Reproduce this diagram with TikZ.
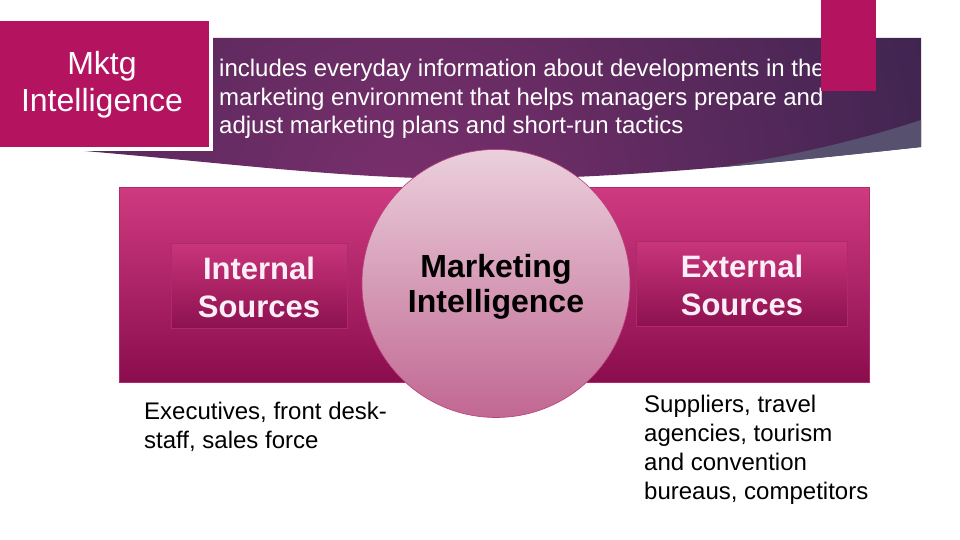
\documentclass[tikz,border=0pt]{standalone}
\usepackage{fontspec}
\setmainfont{Liberation Sans}
\definecolor{mag}{HTML}{B3135F}
\definecolor{bannermid}{HTML}{7A2F6C}
\definecolor{bannerdark}{HTML}{2A2146}
\definecolor{bandcol}{HTML}{57506F}
\definecolor{recttop}{HTML}{CF3A80}
\definecolor{rectbot}{HTML}{8A0D4E}
\definecolor{boxtop}{HTML}{C9357A}
\definecolor{boxbot}{HTML}{8D1150}
\definecolor{boxline}{HTML}{B0296B}
\definecolor{circtop}{HTML}{EBD0DC}
\definecolor{circbot}{HTML}{C16792}
\definecolor{circline}{HTML}{B8407A}
\definecolor{srcwhite}{HTML}{FCEEF7}
\begin{document}
\begin{tikzpicture}[x=1pt,y=-1pt,
  hdr/.style={text=white, font=\fontsize{24}{28.5}\selectfont, align=left, inner sep=0pt},
  body/.style={text=black, font=\fontsize{24}{29}\selectfont, align=left, inner sep=0pt},
  srcbox/.style={draw=boxline, line width=0.8pt, top color=boxtop, bottom color=boxbot, inner sep=0pt},
  srctext/.style={text=srcwhite, font=\bfseries\fontsize{31}{38}\selectfont, align=center, inner sep=0pt},
  mktgtext/.style={text=white, font=\fontsize{32}{37}\selectfont, align=center, inner sep=0pt}]
\useasboundingbox (0,0) rectangle (960,540);
\fill[white] (0,0) rectangle (960,540);
% banner
\begin{scope}
\clip (73,38) -- (921,38) -- (921,147) .. controls (800,160) and (640,178) .. (495,179)
  .. controls (350,180) and (250,165) .. (73,150) -- cycle;
\shade[inner color=bannermid, outer color=bannerdark] (400,200) circle (760);
\fill[bandcol] (921,120) .. controls (860,140) and (790,157) .. (690,172) -- (690,260) -- (960,260) -- (960,120) -- cycle;
\end{scope}
% Mktg box
\node[fill=mag, draw=white, line width=4pt, minimum width=213pt, minimum height=130pt, inner sep=0pt] (mkbox) at (104.5,84) {};
\node[mktgtext, anchor=base] (mktg) at (102,112) {Mktg\\Intelligence};
% header text
\node[hdr, anchor=base west] (hdrtext) at (219,134) {includes everyday information about developments in the\\marketing environment that helps managers prepare and\\adjust marketing plans and short-run tactics};
% top right bar
\fill[mag] (821,0) rectangle (876,91);
% pink band
\node[draw=boxline, line width=0.5pt, top color=recttop, bottom color=rectbot, minimum width=750pt, minimum height=195pt, inner sep=0pt] (band) at (494,284.5) {};
% circle
\node[circle, draw=circline, line width=0.6pt, top color=circtop, bottom color=circbot, minimum size=268pt, inner sep=0pt] (circ) at (496,283.5) {};
\node[font=\bfseries\fontsize{32}{35}\selectfont, align=center, anchor=base, inner sep=0pt] (circtext) at (496,312) {Marketing\\Intelligence};
% source boxes
\node[srcbox, minimum width=176pt, minimum height=85pt] (intbox) at (259,285.5) {};
\node[srctext, anchor=base] (inttext) at (259,317) {Internal\\Sources};
\node[srcbox, minimum width=211pt, minimum height=85pt] (extbox) at (741.5,283.5) {};
\node[srctext, anchor=base] (exttext) at (742,315) {External\\Sources};
% lower texts
\node[body, anchor=base west] (exec) at (144,448) {Executives, front desk-\\staff, sales force};
\node[body, anchor=base west] (supp) at (644,499) {Suppliers, travel\\agencies, tourism\\and convention\\bureaus, competitors};
\end{tikzpicture}
\end{document}
